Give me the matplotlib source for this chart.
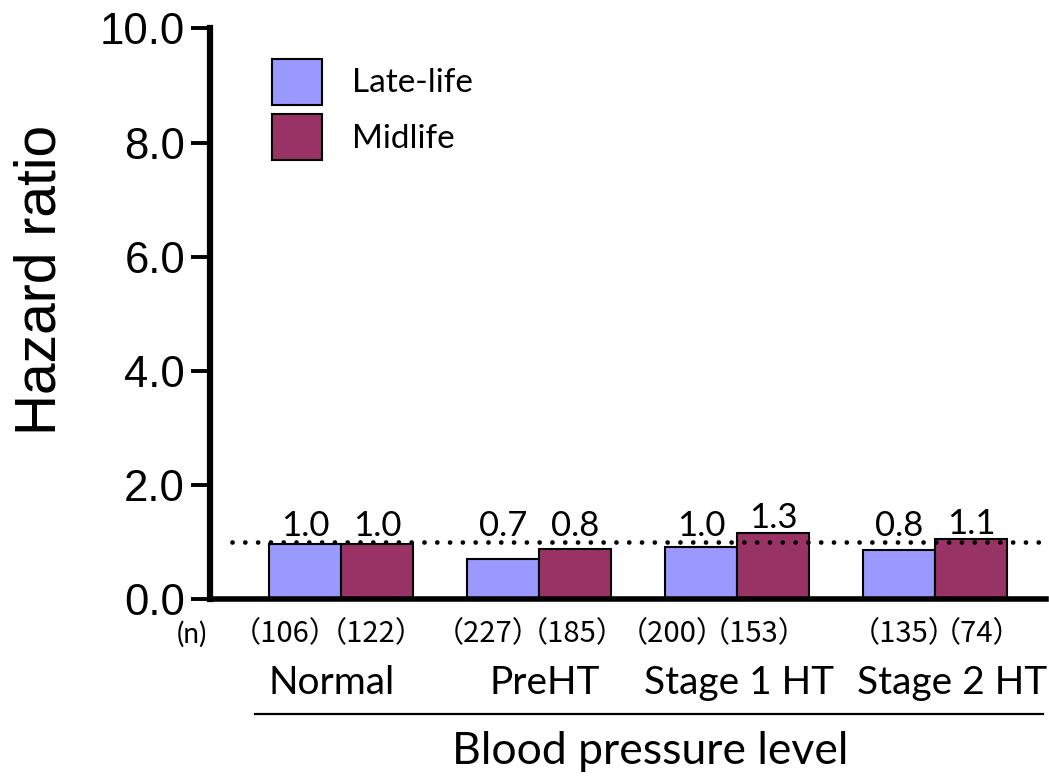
import matplotlib
matplotlib.use("Agg")
import matplotlib.pyplot as plt
import numpy as np

# data
categories = ["Normal", "PreHT", "Stage 1 HT", "Stage 2 HT"]
late_life = [0.96, 0.71, 0.92, 0.86]
midlife = [0.96, 0.87, 1.15, 1.05]
late_labels = ["1.0", "0.7", "1.0", "0.8"]
mid_labels = ["1.0", "0.8", "1.3", "1.1"]
n_late = [106, 227, 200, 135]
n_mid = [122, 185, 153, 74]
ref_line = 1.0

col_late = "#9999ff"
col_mid = "#993366"
calib = ["Lato", "Noto Sans CJK JP", "DejaVu Sans"]
cjk = ["Noto Sans CJK JP", "DejaVu Sans"]
arial = "Liberation Sans"
# hand placement of the text below the axis (points), as in the original
cat_nudge = [-6.5, 4.3, 1.4, 12.2]
n_nudge_late = [-14, -11, -21, 4]
n_nudge_mid = [-4, -2, -14, 4]

fig = plt.figure(figsize=(10.49, 7.77), dpi=100)
ax = fig.add_axes([0.2002, 0.229, 0.797, 0.7345])

x = np.arange(len(categories))
w = 0.364
ax.bar(x - w / 2, late_life, w, color=col_late, edgecolor="black", linewidth=1.5, label="Late-life", zorder=2)
ax.bar(x + w / 2, midlife, w, color=col_mid, edgecolor="black", linewidth=1.5, label="Midlife", zorder=2)

ax.axhline(ref_line, xmin=0.026, xmax=0.995, color="black", lw=3.4,
           linestyle=(0, (0.01, 2.7)), dash_capstyle="round", zorder=3)

for i in range(len(categories)):
    for xi, lab in ((x[i] - w / 2, late_labels[i]), (x[i] + w / 2, mid_labels[i])):
        h = late_life[i] if xi < x[i] else midlife[i]
        ax.annotate(lab, (xi, max(h, ref_line)), xytext=(0, 4), textcoords="offset points",
                    ha="center", va="baseline", fontsize=25, family=calib, zorder=4)

ax.set_xlim(-0.662, 3.56)
ax.set_ylim(0, 10)
ax.set_yticks(np.arange(0, 10.1, 2))
ax.set_yticklabels([f"{v:.1f}" for v in np.arange(0, 10.1, 2)], family=arial, fontsize=31.5)
ax.tick_params(axis="y", length=14, width=2.8, pad=4)
ax.set_xticks([])
for s in ("top", "right"):
    ax.spines[s].set_visible(False)
ax.spines["left"].set_linewidth(4.5)
ax.spines["bottom"].set_linewidth(4)

ax.set_ylabel("Hazard ratio", family=arial, fontsize=41)
ax.yaxis.set_label_coords(-0.170, 0.56)

tr = ax.get_xaxis_transform()
ax.text(-0.0215, -0.0614, "(n)", transform=ax.transAxes, ha="center", va="center", fontsize=20, family=calib)
for i in range(len(categories)):
    ax.annotate(f"（{n_late[i]}）", (x[i] - w / 2, -0.0614), xycoords=tr,
                xytext=(n_nudge_late[i], 0), textcoords="offset points",
                ha="center", va="center", fontsize=21, family=cjk)
    ax.annotate(f"（{n_mid[i]}）", (x[i] + w / 2, -0.0614), xycoords=tr,
                xytext=(n_nudge_mid[i], 0), textcoords="offset points",
                ha="center", va="center", fontsize=21, family=cjk)
    ax.annotate(categories[i], (x[i], -0.147), xycoords=tr,
                xytext=(cat_nudge[i], 0), textcoords="offset points",
                ha="center", va="center", fontsize=28, family=calib)
ax.plot([-0.434, 3.545], [-0.202, -0.202], color="black", lw=1.6, transform=tr, clip_on=False)
ax.text(0.526, -0.267, "Blood pressure level", transform=ax.transAxes, ha="center", va="center",
        fontsize=32, family=calib)

ax.legend(loc="upper left", bbox_to_anchor=(0.074, 0.947), frameon=False,
          prop={"family": calib, "size": 24}, handlelength=1.5, handleheight=1.75,
          labelspacing=0.27, handletextpad=0.9, borderpad=0, borderaxespad=0)

fig.savefig("out.png", dpi=100)
